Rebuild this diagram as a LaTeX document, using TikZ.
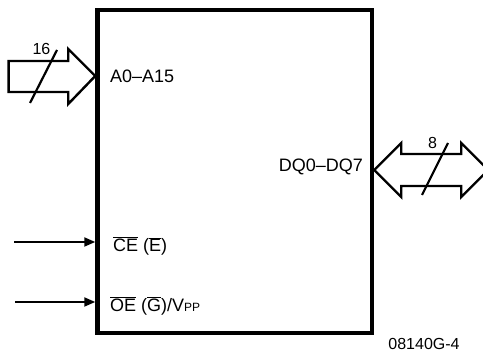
\documentclass[tikz,border=0pt]{standalone}
\usepackage{fontspec}
\setmainfont{Liberation Sans}
\usetikzlibrary{arrows.meta}
\newcommand\ovl[1]{\ensuremath{\overline{\mbox{#1}}}}
\begin{document}
\begin{tikzpicture}[x=1pt,y=1pt,
  lbl/.style={font=\fontsize{18}{18}\selectfont, inner sep=0pt},
  num/.style={font=\fontsize{16}{16}\selectfont, inner sep=0pt},
  bus/.style={line width=2.4pt, line join=miter},
  sig/.style={line width=2pt, -{Triangle[length=11pt,width=9pt]}},
  slashline/.style={line width=2.2pt}]
\useasboundingbox (0,0) rectangle (483,353);
\node[draw, line width=4.5pt, minimum width=274.5pt, minimum height=323pt, inner sep=0pt] (box) at (234.75,181.5) {};
% address bus
\coordinate (atip) at (box.west |- 0,277);
\draw[bus] (atip) -- ++(-27,27) -- ++(0,-12) -- ++(-59.7,0) -- ++(0,-31) -- ++(59.7,0) -- ++(0,-12) -- cycle;
\coordinate (as1) at (30,250);
\coordinate (as2) at (57,303);
\draw[slashline] (as1) -- (as2);
\node[num] (n16) at (41.5,304) {16};
% data bus
\coordinate (dtip) at (box.east |- 0,183);
\draw[bus] (dtip) -- ++(27,27) -- ++(0,-11) -- ++(60,0) -- ++(0,11) -- ++(27,-27) -- ++(-27,-27) -- ++(0,11) -- ++(-60,0) -- ++(0,-11) -- cycle;
\coordinate (ds1) at (422,158);
\coordinate (ds2) at (448,210);
\draw[slashline] (ds1) -- (ds2);
\node[num] (n8) at (432.5,210) {8};
% control signals
\coordinate (ce0) at (14,111);
\draw[sig] (ce0) -- (box.west |- ce0);
\coordinate (oe0) at (15,51);
\draw[sig] (oe0) -- (box.west |- oe0);
% labels
\node[lbl, anchor=base west] (la) at (110,270.5) {A0–A15};
\node[lbl, anchor=base east] (ld) at (363,181.5) {DQ0–DQ7};
\node[lbl, anchor=base west] (lce) at (113,101.5) {\ovl{CE} (\ovl{E})};
\node[lbl, anchor=base west] (loe) at (110,41.5) {\ovl{OE} (\ovl{G})/V{\fontsize{12}{12}\selectfont PP}};
\node[lbl, font=\fontsize{16}{16}\selectfont, anchor=base] (fig) at (424,3.5) {08140G-4};
\end{tikzpicture}
\end{document}
